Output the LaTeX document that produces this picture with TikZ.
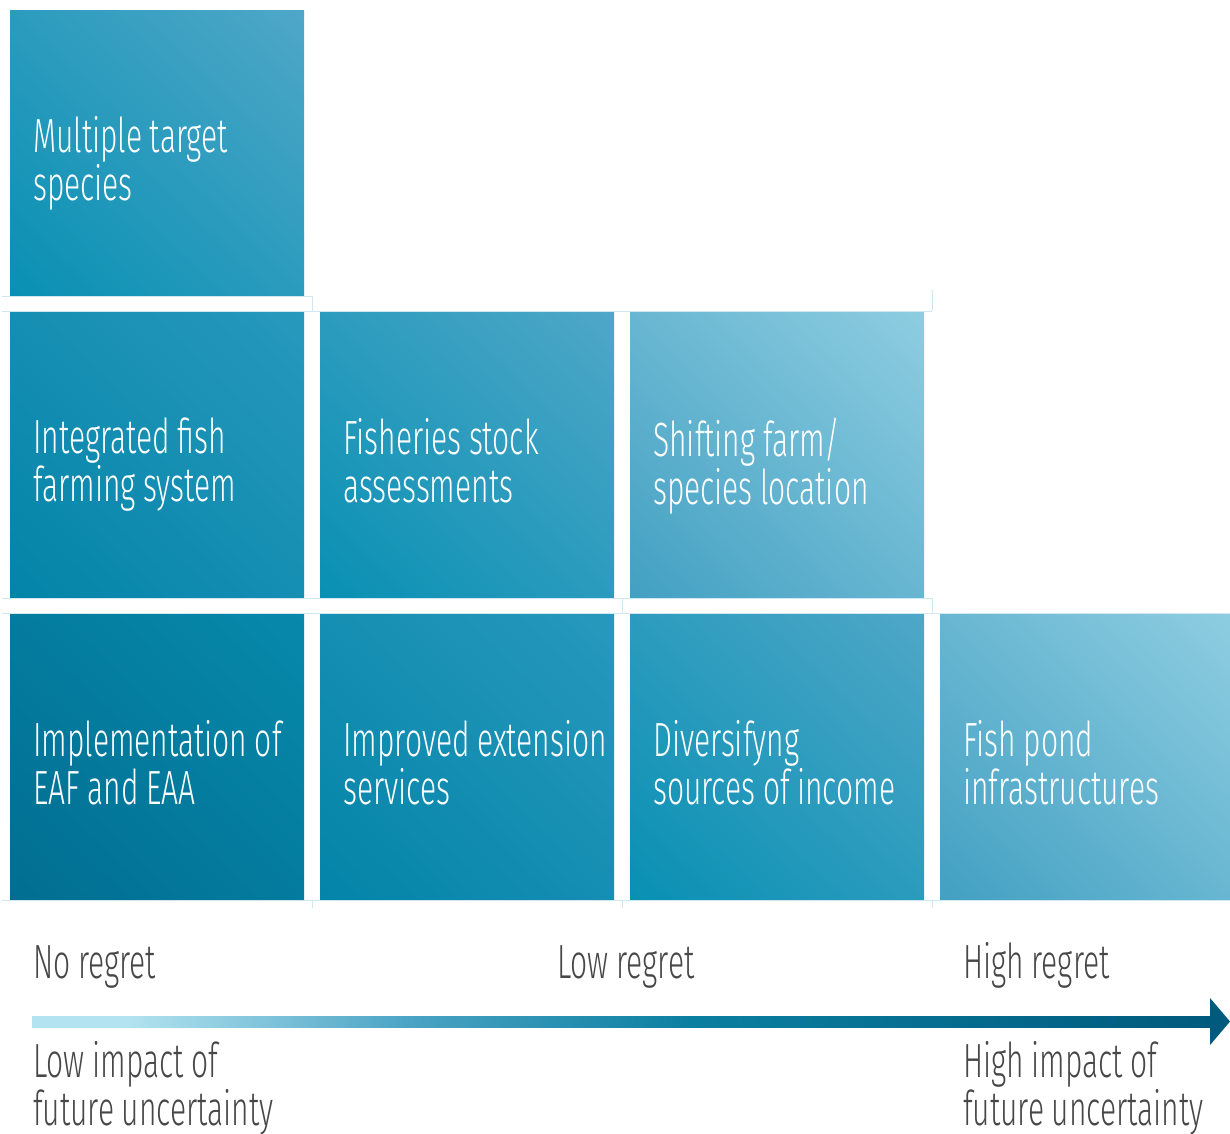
\documentclass[tikz,border=0pt]{standalone}
\usepackage{fontspec}
\setmainfont{Fira Sans Light}[FakeStretch=0.625, WordSpace=0.9]
\usetikzlibrary{calc,shadings}

\definecolor{tealA}{HTML}{016E91}
\definecolor{tealB}{HTML}{0789AB}
\definecolor{tealC}{HTML}{0384A8}
\definecolor{tealD}{HTML}{2799BD}
\definecolor{tealE}{HTML}{0890B3}
\definecolor{tealF}{HTML}{4FA7C8}
\definecolor{tealG}{HTML}{42A0C2}
\definecolor{tealH}{HTML}{8ECDE1}
\definecolor{gridline}{HTML}{CFE9F3}
\definecolor{labelgray}{HTML}{474747}
\definecolor{barlight}{HTML}{B3E3F0}
\definecolor{barmid}{HTML}{4AA3C4}
\definecolor{barteal}{HTML}{0B7FA0}
\definecolor{bardark}{HTML}{005A7D}

\pgfdeclarehorizontalshading{regretbar}{100bp}{color(0bp)=(barlight); color(29bp)=(barlight);
  color(41bp)=(barmid); color(53bp)=(barteal); color(75bp)=(bardark); color(100bp)=(bardark)}

\tikzset{
  cell/.style 2 args={rectangle, anchor=north west, inner sep=0pt,
    minimum width=294pt, minimum height=285pt,
    lower left=#1, upper right=#2, upper left=#1!50!#2, lower right=#1!50!#2},
  celltext/.style={anchor=north west, inner sep=0pt, align=left, text=white,
    font=\fontsize{48}{48}\selectfont},
  scale label/.style={anchor=base west, inner sep=0pt, text=labelgray,
    font=\fontsize{48}{48}\selectfont},
  impact label/.style={anchor=north west, inner sep=0pt, text=labelgray, align=left,
    font=\fontsize{48}{48}\selectfont},
}

\begin{document}
\begin{tikzpicture}[x=1pt,y=-1pt]
  \useasboundingbox (0,0) rectangle (1230,1133);
  % faint table rules
  \draw[gridline, line width=1pt] (2,296) -- (312,296) -- (312,311)
     (2,311) -- (932,311) (932,290) -- (932,311)
     (2,598) -- (932,598) (622,598) -- (622,613) (932,598) -- (932,613)
     (2,613) -- (1230,613)
     (2,900) -- (1230,900) (312,900) -- (312,908) (622,900) -- (622,908) (932,900) -- (932,908);
  % boxes, top row down
  \node[cell={tealE}{tealF}] (target)  at (10,10)   {};
  \node[cell={tealC}{tealD}] (integr)  at (10,312)  {};
  \node[cell={tealE}{tealF}] (stock)   at (320,312) {};
  \node[cell={tealG}{tealH}] (shift)   at (630,312) {};
  \node[cell={tealA}{tealB}] (eaf)     at (10,614)  {};
  \node[cell={tealC}{tealD}] (extens)  at (320,614) {};
  \node[cell={tealE}{tealF}] (income)  at (630,614) {};
  \node[cell={tealG}{tealH}, minimum width=290pt] (pond) at (940,614) {};
  % box texts
  \node[celltext] (target-txt) at ($(target.north west)+(23,106)$) {Multiple target\\species};
  \node[celltext] (integr-txt) at ($(integr.north west)+(23,106)$) {Integrated fish\\farming system};
  \node[celltext] (stock-txt)  at ($(stock.north west)+(23,106)$)  {Fisheries stock\\assessments};
  \node[celltext] (shift-txt)  at ($(shift.north west)+(23,106)$)  {Shifting farm/\\species location};
  \node[celltext] (eaf-txt)    at ($(eaf.north west)+(23,106)$)    {Implementation of\\EAF and EAA};
  \node[celltext] (extens-txt) at ($(extens.north west)+(23,106)$) {Improved extension\\services};
  \node[celltext] (income-txt) at ($(income.north west)+(23,106)$) {Diversifyng\\sources of income};
  \node[celltext] (pond-txt)   at ($(pond.north west)+(23,106)$)   {Fish pond\\infrastructures};
  % regret scale
  \node[scale label] (noreg)   at (33,978)  {No regret};
  \node[scale label] (lowreg)  at (557,978) {Low regret};
  \node[scale label] (highreg) at (963,978) {High regret};
  \coordinate (axisL) at (32,1021.5);
  \coordinate (axisR) at (1212,1021.5);
  \shade[shading=regretbar] ($(axisL)+(0,-5.5)$) rectangle ($(axisR)+(0,5.5)$);
  \fill[bardark] ($(axisR)+(-2,-23.5)$) -- ($(axisR)+(18,0)$) -- ($(axisR)+(-2,23.5)$) -- cycle;
  \node[impact label] (lowimp)  at (33,1041)  {Low impact of\\future uncertainty};
  \node[impact label] (highimp) at (963,1041) {High impact of\\future uncertainty};
\end{tikzpicture}
\end{document}
